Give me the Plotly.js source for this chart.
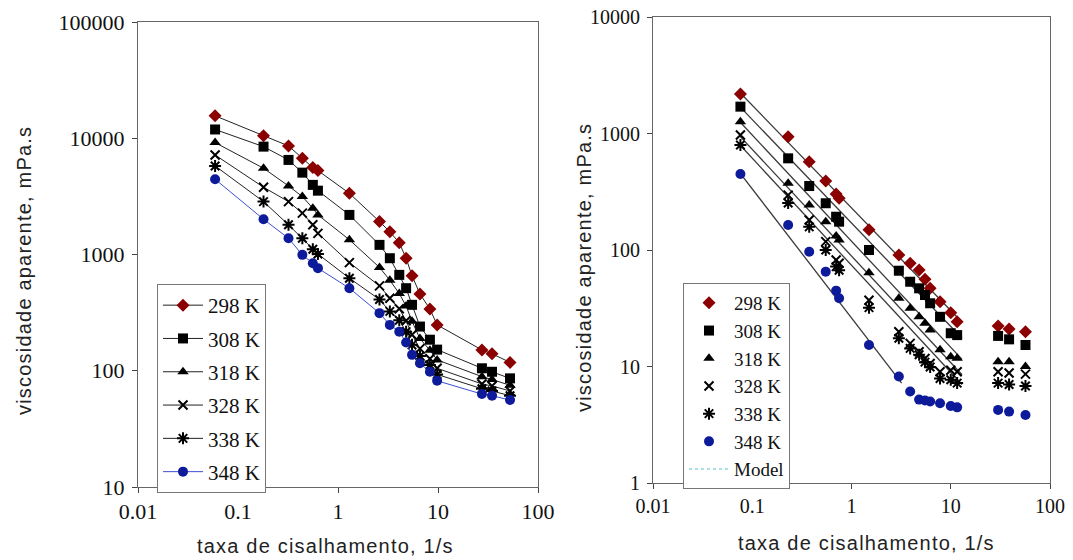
<!DOCTYPE html>
<html>
<head>
<meta charset="utf-8">
<script src="https://cdn.plot.ly/plotly-3.0.1.min.js"></script>
<style>html,body{margin:0;padding:0;background:#fff;}#chart{width:1073px;height:560px;}
.annotation-text{letter-spacing:1.2px;}</style>
</head>
<body>
<div id="chart"></div>
<script>
// ---------- DATA ----------
const seriesNames = ["298 K", "308 K", "318 K", "328 K", "338 K", "348 K"];

// Left panel
const leftShear = [0.059, 0.18, 0.32, 0.44, 0.56, 0.63, 1.3, 2.6, 3.3, 4.1, 4.8, 5.5, 6.6, 8.3, 9.8, 27.5, 34.7, 52.5];
const left298 = [15600, 10500, 8590, 6730, 5590, 5270, 3360, 1920, 1570, 1260, 929, 655, 458, 339, 248, 151, 140, 118];
const left308 = [11900, 8470, 6510, 5060, 3970, 3540, 2190, 1210, 929, 668, 513, 369, 240, 185, 152, 105, 98, 86];
const left318 = [9170, 5520, 3890, 3150, 2500, 2190, 1340, 774, 601, 461, 360, 266, 189, 150, 124, 89, 84, 75];
const left328 = [7180, 3790, 2850, 2270, 1800, 1520, 851, 537, 421, 341, 269, 204, 155, 127, 105, 77, 74, 67];
const left338 = [5780, 2850, 1800, 1380, 1110, 1010, 625, 410, 324, 272, 217, 167, 134, 112, 93, 70, 67, 61];
const left348 = [4440, 2010, 1380, 993, 842, 763, 513, 313, 248, 217, 175, 137, 116, 98, 82, 63, 61, 56];

// Right panel
const rightShear = [0.076, 0.23, 0.375, 0.55, 0.7, 0.75, 1.5, 3.0, 3.9, 4.8, 5.5, 6.2, 7.8, 10, 11.6, 30, 38.7, 56.6];
const right298 = [2180, 939, 573, 391, 303, 278, 149, 90.6, 76.9, 67.3, 56, 46.9, 36, 29, 24.2, 22.3, 21, 19.9];
const right308 = [1700, 612, 354, 252, 193, 175, 100, 66.4, 53.4, 46.9, 41.1, 34.9, 26.7, 19.3, 18.6, 18.3, 17.1, 15.3];
const right318 = [1260, 374, 243, 175, 132, 122, 63.8, 38.5, 31.6, 26.7, 23.5, 20.6, 13.9, 12.1, 11.8, 11, 11, 10];
const right328 = [970, 296, 181, 118, 82, 77, 37, 19.9, 15.8, 13.4, 11.7, 10.6, 9.0, 9.3, 9.0, 9.0, 8.8, 8.6];
const right338 = [796, 253, 158, 100, 72, 67, 32, 17.5, 14.3, 12.6, 10.9, 9.9, 7.9, 7.7, 7.2, 7.2, 7.0, 6.8];
const right348 = [449, 164, 96.6, 65.2, 44.8, 38.5, 15.3, 8.2, 6.1, 5.2, 5.1, 5.0, 4.83, 4.58, 4.46, 4.24, 4.1, 3.84];

// Model (power-law) lines, right panel: end points
const modelX = [0.075, 13];
const modelX348 = [0.075, 3.2];
const model298 = [2250, 24];
const model308 = [1700, 17.5];
const model318 = [1260, 11.5];
const model328 = [950, 8.5];
const model338 = [800, 7];
const model348 = [460, 7.2];

// Tick labels
const xTickVals = [0.01, 0.1, 1, 10, 100];
const xTickText = ["0.01", "0.1", "1", "10", "100"];
const yLeftTickVals = [10, 100, 1000, 10000, 100000];
const yLeftTickText = ["10", "100", "1000", "10000", "100000"];
const yRightTickVals = [1, 10, 100, 1000, 10000];
const yRightTickText = ["1", "10", "100", "1000", "10000"];

const xTitle = "taxa de cisalhamento, 1/s";
const yTitle = "viscosidade aparente, mPa.s";

// ---------- STYLE ----------
const RED = "#8b0000", BLUE = "#0d1a9a";
const markerStyles = [
  {symbol: "diamond", color: RED, size: 10},
  {symbol: "square", color: "#000", size: 10},
  {symbol: "triangle-up", color: "#000", size: 10},
  {symbol: "x-thin-open", color: "#000", size: 9, line: {width: 2, color: "#000"}},
  {symbol: "asterisk-open", color: "#000", size: 10, line: {width: 2, color: "#000"}},
  {symbol: "circle", color: BLUE, size: 10}
];
const leftLineColors = ["#222", "#222", "#222", "#222", "#222", "#3d4fd0"];

const leftY = [left298, left308, left318, left328, left338, left348];
const rightY = [right298, right308, right318, right328, right338, right348];
const modelY = [model298, model308, model318, model328, model338, model348];
const modelXs = [modelX, modelX, modelX, modelX, modelX, modelX348];

const traces = [];
seriesNames.forEach((n, i) => {
  traces.push({
    type: "scatter", mode: "lines+markers", x: leftShear, y: leftY[i], name: n,
    xaxis: "x", yaxis: "y", legend: "legend", legendgroup: "L" + i,
    line: {color: leftLineColors[i], width: 1},
    marker: markerStyles[i], cliponaxis: false
  });
});
seriesNames.forEach((n, i) => {
  traces.push({
    type: "scatter", mode: "lines", x: modelXs[i], y: modelY[i], name: "Model " + n,
    xaxis: "x2", yaxis: "y2", showlegend: false,
    line: {color: "#3a3a3a", width: 1.3}
  });
});
seriesNames.forEach((n, i) => {
  traces.push({
    type: "scatter", mode: "markers", x: rightShear, y: rightY[i], name: n,
    xaxis: "x2", yaxis: "y2", legend: "legend2",
    marker: markerStyles[i], cliponaxis: false
  });
});
// legend entry for the model lines
traces.push({
  type: "scatter", mode: "lines", x: [null], y: [null], name: "Model",
  xaxis: "x2", yaxis: "y2", legend: "legend2",
  line: {color: "#8fd6d6", width: 1.5, dash: "dot"}
});

const W = 1073, H = 560;
const px = v => v / W, py = v => (H - v) / H;

const tickFontL = {family: "Liberation Serif, Times New Roman, serif", size: 22, color: "#111"};
const tickFontR = {family: "Liberation Serif, Times New Roman, serif", size: 20, color: "#111"};
const axisCommon = {
  type: "log", showgrid: false, zeroline: false, showline: true, mirror: true,
  linecolor: "#666", linewidth: 1, ticks: "outside", ticklen: 5, tickcolor: "#444",
  tickmode: "array"
};
const titleFont = {family: "Liberation Sans, Arial, sans-serif", size: 20, color: "#222"};

const layout = {
  width: W, height: H, margin: {l: 0, r: 0, t: 0, b: 0},
  paper_bgcolor: "#fff", plot_bgcolor: "#fff",
  xaxis: Object.assign({}, axisCommon, {domain: [px(138), px(538)], range: [-2, 2], anchor: "y",
    tickvals: xTickVals, ticktext: xTickText, tickfont: tickFontL}),
  yaxis: Object.assign({}, axisCommon, {domain: [py(487), py(22)], range: [1, 5], anchor: "x",
    tickvals: yLeftTickVals, ticktext: yLeftTickText, ticklabelstandoff: 3, tickfont: tickFontL}),
  xaxis2: Object.assign({}, axisCommon, {domain: [px(653), px(1050)], range: [-2, 2], anchor: "y2",
    tickvals: xTickVals, ticktext: xTickText, tickfont: tickFontR}),
  yaxis2: Object.assign({}, axisCommon, {domain: [py(483), py(17)], range: [0, 4], anchor: "x2",
    tickvals: yRightTickVals, ticktext: yRightTickText, ticklabelstandoff: 3, tickfont: tickFontR}),
  legend: {
    x: px(157), y: py(284), xanchor: "left", yanchor: "top",
    bgcolor: "#fff", bordercolor: "#777", borderwidth: 1,
    font: {family: "Liberation Serif, Times New Roman, serif", size: 21, color: "#111"},
    tracegroupgap: 3, itemwidth: 40, traceorder: "grouped"
  },
  legend2: {
    x: px(683), y: py(283), xanchor: "left", yanchor: "top",
    bgcolor: "#fff", bordercolor: "#777", borderwidth: 1,
    font: {family: "Liberation Serif, Times New Roman, serif", size: 19, color: "#111"},
    tracegroupgap: 0, itemwidth: 40, traceorder: "normal"
  },
  annotations: [
    {text: yTitle, xref: "paper", yref: "paper", x: px(24), y: py(271), textangle: -90, showarrow: false,
     xanchor: "center", yanchor: "middle", font: titleFont},
    {text: yTitle, xref: "paper", yref: "paper", x: px(584), y: py(268), textangle: -90, showarrow: false,
     xanchor: "center", yanchor: "middle", font: titleFont},
    {text: xTitle, xref: "paper", yref: "paper", x: px(325), y: py(546), showarrow: false,
     xanchor: "center", yanchor: "middle", font: titleFont},
    {text: xTitle, xref: "paper", yref: "paper", x: px(866), y: py(543), showarrow: false,
     xanchor: "center", yanchor: "middle", font: titleFont}
  ]
};

Plotly.newPlot("chart", traces, layout, {staticPlot: true, displayModeBar: false});
</script>
</body>
</html>
